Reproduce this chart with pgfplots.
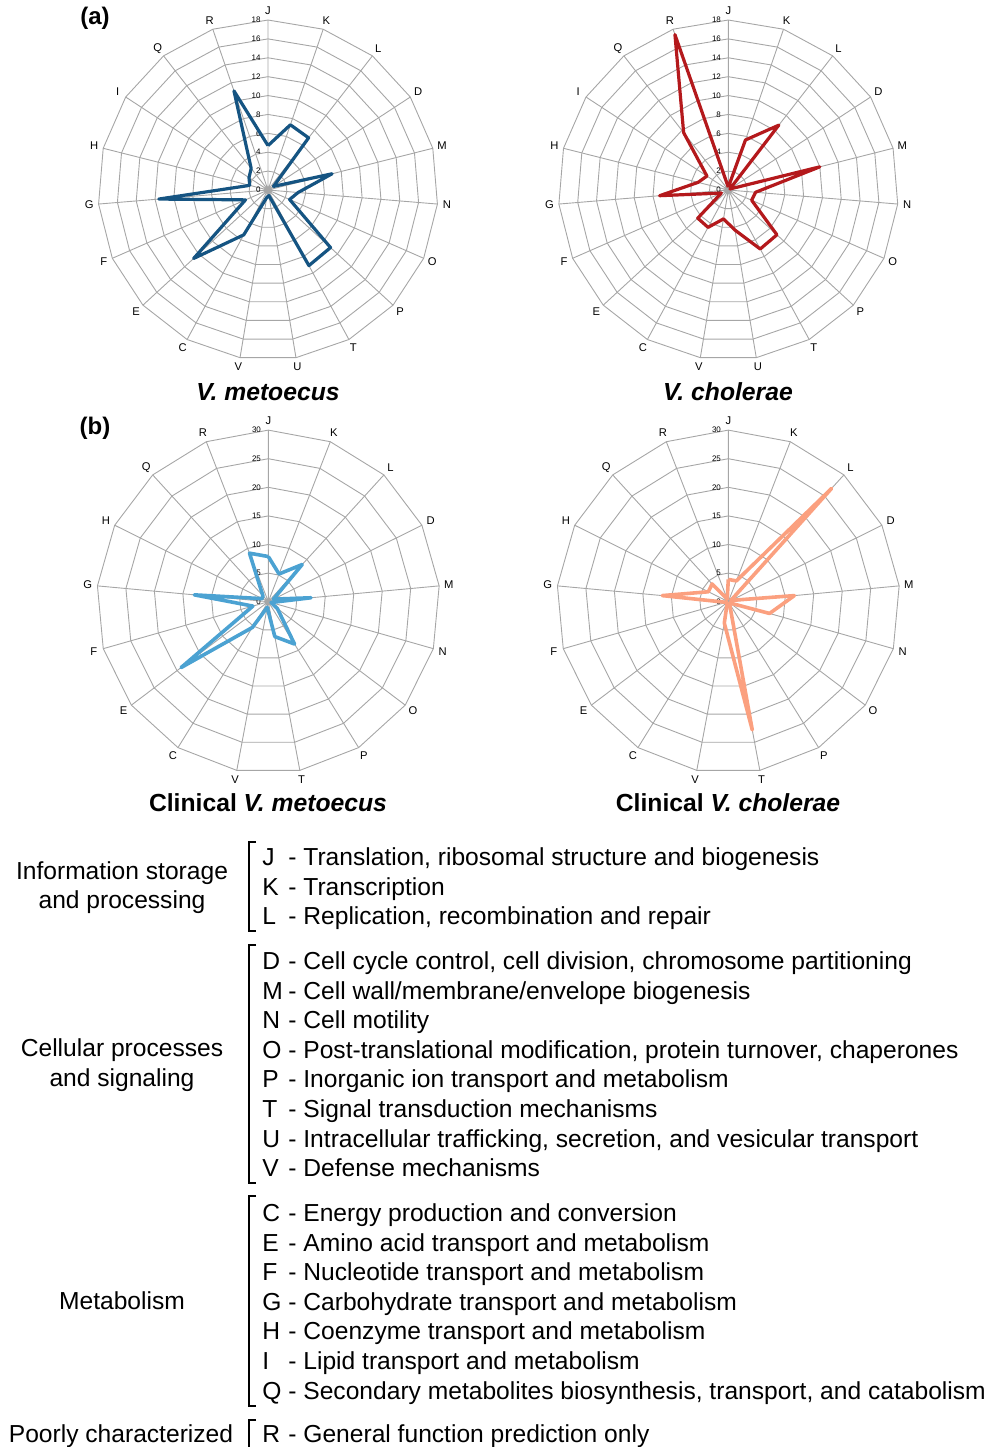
\documentclass[border=0pt]{standalone}
\usepackage{fontspec}
\setmainfont{Liberation Sans}
\usepackage{pgfplots}
\usepackage{pgfplotstable}
\usepgfplotslibrary{polar}
\pgfplotsset{compat=1.18}

\definecolor{cA}{RGB}{21,84,130}
\definecolor{cB}{RGB}{180,25,28}
\definecolor{cC}{RGB}{75,162,210}
\definecolor{cD}{RGB}{251,160,127}

\tikzset{
  gridc/.style={draw=gray!70, line width=0.45pt},
  ticklab/.style={anchor=east, inner sep=0pt, xshift=-3.5pt, font=\fontsize{4}{4}\selectfont},
  catlab/.style={inner sep=0pt, font=\fontsize{5.6}{6}\selectfont},
}
\pgfplotsset{radar/.style={scale only axis, hide axis, clip=false, anchor=center, ymin=0, xmin=0, xmax=360}}

% COG category counts (top: 19 categories; bottom: 17 categories)
\pgfplotstableread{
cat met chol
J 4.7 0.3
K 7.3 5.6
L 7.0 8.7
D 0.7 0.2
M 7.0 10.0
N 3.2 2.9
O 2.5 2.7
P 9.0 7.0
T 9.1 7.1
U 0.6 4.3
V 0.8 3.1
C 5.4 4.5
E 10.7 4.4
F 2.6 0.8
G 11.6 7.3
H 2.0 3.3
I 2.4 2.7
Q 2.9 7.7
R 11.1 17.4
J 4.7 0.3
}\topdata

\pgfplotstableread{
cat met chol
J 7.9 3.9
K 5.2 3.9
L 8.8 26.8
D 1.0 0.5
M 7.5 11.6
N 0.5 7.5
O 2.0 0.4
P 8.7 0.4
T 6.2 22.8
V 1.0 3.8
C 5.3 0.4
E 19.1 0.3
F 2.8 0.4
G 13.0 11.6
H 1.2 3.9
Q 1.4 4.2
R 9.1 0.5
J 7.9 3.9
}\botdata

\newcommand\topgrid{%
  \draw[gridc] \foreach \k [evaluate=\k as \a using 90-\k*360/19] in {0,...,18}{(axis cs:0,0) -- (axis cs:\a,18)};
  \pgfplotsinvokeforeach{2,4,...,18}{%
    \draw[gridc] (axis cs:90,##1) \foreach \k [evaluate=\k as \a using 90-\k*360/19] in {1,...,18}{ -- (axis cs:\a,##1)} -- cycle;
  }%
  \pgfplotsinvokeforeach{0,2,...,18}{\node[ticklab] at (axis cs:90,##1) {##1};}%
  \path \foreach \k/\l [evaluate=\k as \a using 90-\k*360/19] in {0/J,1/K,2/L,3/D,4/M,5/N,6/O,7/P,8/T,9/U,10/V,11/C,12/E,13/F,14/G,15/H,16/I,17/Q,18/R}{(axis cs:\a,19) node[catlab]{\l}};
}
\newcommand\botgrid{%
  \draw[gridc] \foreach \k [evaluate=\k as \a using 90-\k*360/17] in {0,...,16}{(axis cs:0,0) -- (axis cs:\a,30)};
  \pgfplotsinvokeforeach{5,10,...,30}{%
    \draw[gridc] (axis cs:90,##1) \foreach \k [evaluate=\k as \a using 90-\k*360/17] in {1,...,16}{ -- (axis cs:\a,##1)} -- cycle;
  }%
  \pgfplotsinvokeforeach{0,5,...,30}{\node[ticklab] at (axis cs:90,##1) {##1};}%
  \path \foreach \k/\l [evaluate=\k as \a using 90-\k*360/17] in {0/J,1/K,2/L,3/D,4/M,5/N,6/O,7/P,8/T,9/V,10/C,11/E,12/F,13/G,14/H,15/Q,16/R}{(axis cs:\a,31.7) node[catlab]{\l}};
}

\def\tf{\fontsize{12.3}{14}\selectfont}
\newcommand\cog[3]{%
  \node[anchor=base west,font=\tf,inner sep=0pt] at (262,-#1-8.5) {#2};
  \node[anchor=base west,font=\tf,inner sep=0pt] at (288,-#1-8.5) {- #3};
}

\begin{document}
\begin{tikzpicture}[x=0.5pt,y=0.5pt]
\path[use as bounding box] (0,0) rectangle (989,-1447);

\begin{polaraxis}[radar, width=170pt, height=170pt, ymax=18, at={(134pt,-95pt)}]
\topgrid
\addplot[cA, line width=1.6pt, line join=round, no marks] table[x expr={mod(450-\coordindex*360/19,360)}, y=met]{\topdata};
\end{polaraxis}

\begin{polaraxis}[radar, width=170pt, height=170pt, ymax=18, at={(364.15pt,-95pt)}]
\topgrid
\addplot[cB, line width=1.6pt, line join=round, no marks] table[x expr={mod(450-\coordindex*360/19,360)}, y=chol]{\topdata};
\end{polaraxis}

\begin{polaraxis}[radar, width=171.6pt, height=171.6pt, ymax=30, at={(134.15pt,-300.85pt)}]
\botgrid
\addplot[cC, line width=1.8pt, line join=round, no marks] table[x expr={mod(450-\coordindex*360/17,360)}, y=met]{\botdata};
\end{polaraxis}

\begin{polaraxis}[radar, width=171.6pt, height=171.6pt, ymax=30, at={(364.15pt,-300.85pt)}]
\botgrid
\addplot[cD, line width=1.8pt, line join=round, no marks] table[x expr={mod(450-\coordindex*360/17,360)}, y=chol]{\botdata};
\end{polaraxis}

% panel letters and titles
\node[font=\fontsize{12}{14}\selectfont\bfseries] at (95,-18) {(a)};
\node[font=\fontsize{12}{14}\selectfont\bfseries] at (95,-428) {(b)};
\node[anchor=base, font=\fontsize{12.35}{14}\selectfont\bfseries] at (268,-400) {\textit{V. metoecus}};
\node[anchor=base, font=\fontsize{12.35}{14}\selectfont\bfseries] at (728,-400) {\textit{V. cholerae}};
\node[anchor=base, font=\fontsize{12.35}{14}\selectfont\bfseries] at (268,-811) {Clinical \textit{V. metoecus}};
\node[anchor=base, font=\fontsize{12.35}{14}\selectfont\bfseries] at (728,-811) {Clinical \textit{V. cholerae}};

% group labels
\node[anchor=base, font=\tf] at (122,-879.5) {Information storage};
\node[anchor=base, font=\tf] at (122,-908.5) {and processing};
\node[anchor=base, font=\tf] at (122,-1056.5) {Cellular processes};
\node[anchor=base, font=\tf] at (122,-1086.5) {and signaling};
\node[anchor=base, font=\tf] at (122,-1309.5) {Metabolism};
\node[anchor=base, font=\tf] at (121,-1442.5) {Poorly characterized};

% brackets
\draw[line width=1.1pt] (256,-842) -- (249,-842) -- (249,-931) -- (256,-931);
\draw[line width=1.1pt] (256,-945) -- (249,-945) -- (249,-1183) -- (256,-1183);
\draw[line width=1.1pt] (256,-1196) -- (249,-1196) -- (249,-1406) -- (256,-1406);
\draw[line width=1.1pt] (256,-1420) -- (249,-1420) -- (249,-1452);

% category descriptions
\cog{857}{J}{Translation, ribosomal structure and biogenesis}
\cog{886.6}{K}{Transcription}
\cog{916.2}{L}{Replication, recombination and repair}
\cog{961}{D}{Cell cycle control, cell division, chromosome partitioning}
\cog{990.6}{M}{Cell wall/membrane/envelope biogenesis}
\cog{1020.2}{N}{Cell motility}
\cog{1049.8}{O}{Post-translational modification, protein turnover, chaperones}
\cog{1079.4}{P}{Inorganic ion transport and metabolism}
\cog{1109}{T}{Signal transduction mechanisms}
\cog{1138.6}{U}{Intracellular trafficking, secretion, and vesicular transport}
\cog{1168.2}{V}{Defense mechanisms}
\cog{1213}{C}{Energy production and conversion}
\cog{1242.6}{E}{Amino acid transport and metabolism}
\cog{1272.2}{F}{Nucleotide transport and metabolism}
\cog{1301.8}{G}{Carbohydrate transport and metabolism}
\cog{1331.4}{H}{Coenzyme transport and metabolism}
\cog{1361}{I}{Lipid transport and metabolism}
\cog{1390.6}{Q}{Secondary metabolites biosynthesis, transport, and catabolism}
\cog{1434}{R}{General function prediction only}
\end{tikzpicture}
\end{document}
